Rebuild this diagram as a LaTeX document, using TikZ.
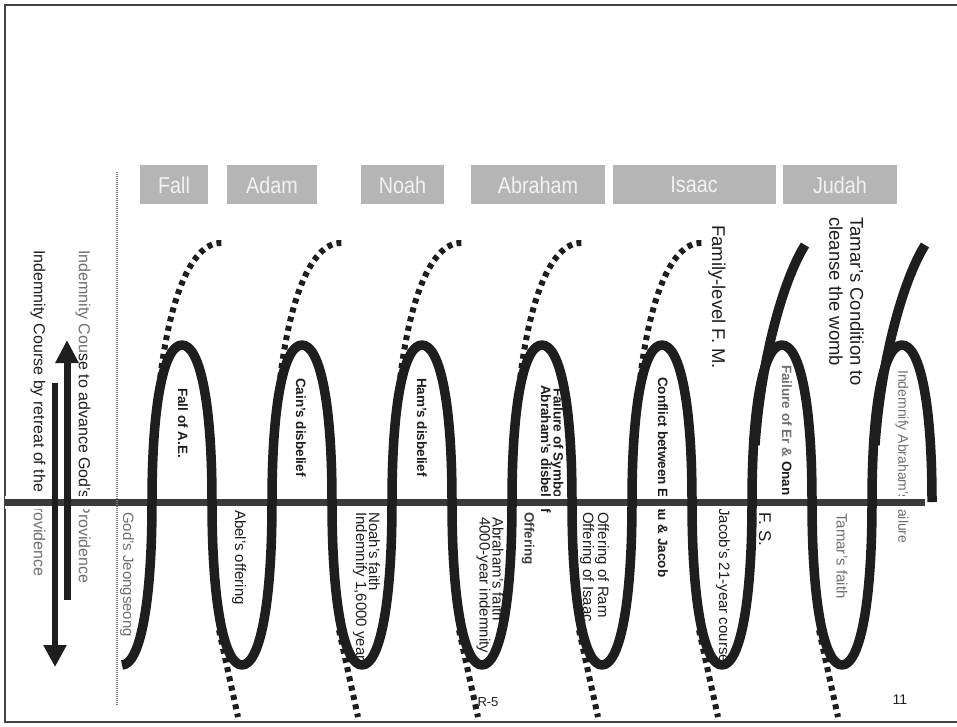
\documentclass[tikz,border=0pt]{standalone}
\usepackage{fontspec}
\setmainfont{Liberation Sans}
\newfontfamily\hdrfont[FakeStretch=0.86]{Liberation Sans}
\usetikzlibrary{arrows.meta}
\definecolor{ink}{HTML}{1E1E1E}
\definecolor{axisc}{HTML}{3A3A3A}
\definecolor{boxgray}{HTML}{B5B5B5}
\definecolor{boxtext}{HTML}{F2F2F2}
\definecolor{gtext}{HTML}{707070}
\definecolor{framec}{HTML}{444444}
\definecolor{vdot}{HTML}{7A7A7A}
\newcommand{\myfs}[2]{\fontsize{#1}{#2}\selectfont}
\begin{document}
\begin{tikzpicture}[x=1pt,y=-1pt,
  helix/.style={line width=9.5pt, draw=ink, line join=round},
  dotl/.style={line width=6pt, draw=ink, dash pattern=on 5pt off 4.5pt},
  hdr/.style={fill=boxgray, text=boxtext, minimum height=39pt, inner sep=0pt, font=\hdrfont\myfs{23}{23}},
  lbl/.style={rotate=-90, anchor=west, inner sep=0pt, align=left, text=ink, font=\myfs{15}{13}},
  blbl/.style={lbl, font=\myfs{13.5}{12}\bfseries},
  biglbl/.style={lbl, font=\myfs{18.5}{21}},
]
\useasboundingbox (0,0) rectangle (957,727);
\fill[white] (0,0) rectangle (957,727);
% frame
\draw[framec, line width=2pt] (957,5) -- (5,5) -- (5,722) -- (957,722);

% header boxes
\node[hdr, minimum width=68pt]  (fall)  at (174,185)   {Fall};
\node[hdr, minimum width=90pt]  (adam)  at (272,185)   {Adam};
\node[hdr, minimum width=83pt]  (noah)  at (402.5,185) {Noah};
\node[hdr, minimum width=134pt] (abr)   at (538,185)   {Abraham};
\node[hdr, minimum width=163pt] (isaac) at (694,185)   {Isaac};
\node[hdr, minimum width=114pt] (judah) at (840,185)   {Judah};

% left texts
\node[lbl, font=\myfs{16}{16}] (outer) at (38,250) {Indemnity Course by retreat of the {\color{gtext}Providence}};
\node[lbl, font=\myfs{16}{16}] (inner) at (83,250) {{\color{gtext}Indemnity Cou}se to advance God's {\color{gtext}Providence}};
\node[lbl, text=gtext] (jeong) at (127,512) {God's Jeongseong};

% arch labels (above axis)
\node[blbl] (fallae) at (183,388) {Fall of A.E.};
\node[blbl] (cain)   at (301,378) {Cain's disbelief};
\node[blbl] (ham)    at (422,378) {Ham's disbelief};
\node[blbl] (abrd)   at (546,385) {Abraham's disbelief};
\node[blbl] (symb)   at (557,388) {Failure of Symbol};
\node[blbl, text=ink!85] (offr) at (528,512) {Offering};
\node[blbl] (confl)  at (663,377) {Conflict between Esau \& Jacob};
\node[blbl] (eronan) at (787,365) {{\color{gtext}Failure of Er \&} Onan};
\node[lbl, text=gtext, font=\myfs{14}{14}] (indab) at (902,370) {Indemnify Abraham's failure};

% labels below axis
\node[lbl] (abel)   at (239,510) {Abel's offering};
\node[lbl] (noahf)  at (366.5,512) {Noah's faith\\Indemnify 1,6000 years};
\node[lbl] (abrf)   at (490,517) {Abraham's faith\\4000-year indemnity};
\node[lbl] (ram)    at (594.5,512) {Offering of Ram\\Offering of Isaac};
\node[lbl] (jacob)  at (723,508) {Jacob's 21-year course};
\node[lbl, text=gtext] (tamarf) at (842,513) {Tamar's faith};
\node[lbl, font=\myfs{17}{17}] (fs) at (765,512) {F. S.};
\node[biglbl] (fm) at (717,225) {Family-level F. M.};
\node[biglbl] (tamarc) at (846.5,217) {Tamar's Condition to\\cleanse the womb};

% axis
\coordinate (axL) at (5,502);
\coordinate (axR) at (925,502);
\draw[white, line width=13pt] (axL) -- (axR);
\draw[axisc, line width=7pt] (axL) -- (axR);

% dotted divider
\coordinate (dvT) at (117,172);
\coordinate (dvB) at (117,706);
\draw[vdot, line width=1.3pt, dash pattern=on 1pt off 1pt] (dvT) -- (dvB);

% arrows
\coordinate (upS) at (67,600);
\coordinate (upE) at (67,340);
\coordinate (dnS) at (55,383);
\coordinate (dnE) at (55,667);
\draw[ink, line width=7pt, -{Triangle[width=22pt,length=23pt]}] (upS) -- (upE);
\draw[ink, line width=6pt, -{Triangle[width=22pt,length=22pt]}] (dnS) -- (dnE);

% top dotted continuations
\foreach \o in {0,120,240,360,480}{
  \draw[dotl] (156+\o,425) .. controls (163+\o,310) and (189+\o,241) .. (222+\o,243);
}
% Judah solid continuations
\foreach \o in {0,120}{
  \draw[helix] (755+\o,445) .. controls (761+\o,360) and (783+\o,280) .. (805+\o,245);
}
% bottom dotted continuations
\foreach \x in {212,332,452,572,692,812}{
  \draw[dotl] (\x+7,630) -- (\x+26,717);
}

% main helix
\draw[helix] (122,665) .. controls (139,665) and (152,608) .. (152,502)
  \foreach \x in {152,272,392,512,632,752}{
    .. controls (\x,398) and (\x+13,345) .. (\x+30,345)
    .. controls (\x+47,345) and (\x+60,398) .. (\x+60,502)
    .. controls (\x+60,608) and (\x+73,665) .. (\x+90,665)
    .. controls (\x+107,665) and (\x+120,608) .. (\x+120,502)
  }
  .. controls (872,398) and (885,345) .. (902,345)
  .. controls (919,345) and (932,398) .. (932,502);

% page marks
\node[font=\myfs{13}{13}, text=ink] (r5) at (488,702) {R-5};
\node[font=\myfs{14}{14}, text=ink] (pg) at (900,700) {11};
\end{tikzpicture}
\end{document}
